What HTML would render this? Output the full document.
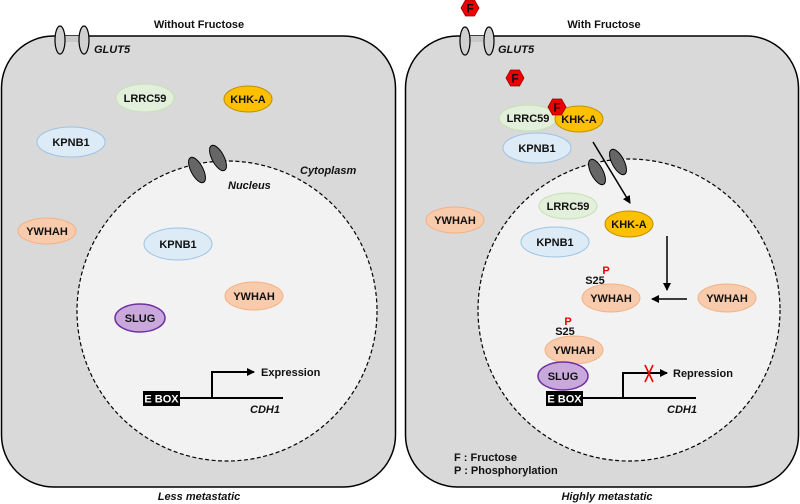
<!DOCTYPE html>
<html><head><meta charset="utf-8"><style>
html,body{margin:0;padding:0;background:#fff}
svg{display:block}
text{font-family:"Liberation Sans",Arial,sans-serif;font-weight:bold;fill:#111}
.it{font-style:italic}
</style></head><body>
<svg width="800" height="504" viewBox="0 0 800 504" xmlns="http://www.w3.org/2000/svg">
<defs>
<marker id="ah" markerWidth="8" markerHeight="8" refX="7" refY="4" orient="auto" markerUnits="userSpaceOnUse"><path d="M0,0 L8,4 L0,8 Z" fill="#000"/></marker>
<g id="hex"><polygon points="-9,0 -4.5,-8 4.5,-8 9,0 4.5,8 -4.5,8" fill="#e00" stroke="#900" stroke-width="0.8"/><text x="0" y="4.5" text-anchor="middle" font-size="12" style="fill:#111">F</text></g>
</defs>
<!-- titles -->
<text x="199" y="28" text-anchor="middle" font-size="11">Without Fructose</text>
<text x="604" y="28" text-anchor="middle" font-size="11">With Fructose</text>
<!-- cells -->
<rect x="1.5" y="36" width="394" height="451" rx="52" fill="#d9d9d9" stroke="#000" stroke-width="1.5"/>
<rect x="405.5" y="36" width="393" height="451" rx="52" fill="#d9d9d9" stroke="#000" stroke-width="1.5"/>
<!-- nuclei -->
<circle cx="227" cy="311" r="150" fill="#f2f2f2" stroke="#000" stroke-width="1.2" stroke-dasharray="4,2.5"/>
<circle cx="629" cy="310" r="151" fill="#f2f2f2" stroke="#000" stroke-width="1.2" stroke-dasharray="4,2.5"/>
<!-- GLUT5 -->
<rect x="60" y="36" width="24" height="6" fill="#c8c8c8"/>
<ellipse cx="60" cy="40" rx="5" ry="14" fill="#d0d0d0" stroke="#000" stroke-width="1.2"/>
<ellipse cx="84" cy="40" rx="5" ry="14" fill="#d0d0d0" stroke="#000" stroke-width="1.2"/>
<text x="94" y="53" font-size="11" class="it">GLUT5</text>
<rect x="465" y="36" width="24" height="6" fill="#c8c8c8"/>
<ellipse cx="465" cy="41" rx="5" ry="14" fill="#d0d0d0" stroke="#000" stroke-width="1.2"/>
<ellipse cx="489" cy="41" rx="5" ry="14" fill="#d0d0d0" stroke="#000" stroke-width="1.2"/>
<text x="498" y="53" font-size="11" class="it">GLUT5</text>
<!-- pores -->
<ellipse cx="197" cy="170" rx="6" ry="14" transform="rotate(-28 197 170)" fill="#666" stroke="#000"/>
<ellipse cx="218" cy="158" rx="6" ry="14" transform="rotate(-28 218 158)" fill="#666" stroke="#000"/>
<ellipse cx="597" cy="172" rx="6" ry="14" transform="rotate(-28 597 172)" fill="#666" stroke="#000"/>
<ellipse cx="618" cy="162" rx="6" ry="14" transform="rotate(-28 618 162)" fill="#666" stroke="#000"/>
<text x="300" y="174" font-size="11" class="it">Cytoplasm</text>
<text x="228" y="189" font-size="11" class="it">Nucleus</text>
<!-- left proteins -->
<g font-size="11" text-anchor="middle">
<ellipse cx="145" cy="98" rx="29" ry="14" fill="#e2efda" stroke="#c6e0b4"/><text x="145" y="102">LRRC59</text>
<ellipse cx="248" cy="99" rx="24" ry="13" fill="#ffc000" stroke="#bf9000"/><text x="248" y="103">KHK-A</text>
<ellipse cx="71" cy="142" rx="34" ry="15" fill="#ddebf7" stroke="#9dc3e6"/><text x="71" y="146">KPNB1</text>
<ellipse cx="47" cy="231" rx="29" ry="13" fill="#f8cbad" stroke="#f4b183"/><text x="47" y="235">YWHAH</text>
<ellipse cx="178" cy="244" rx="34" ry="16" fill="#ddebf7" stroke="#9dc3e6"/><text x="178" y="248">KPNB1</text>
<ellipse cx="254" cy="296" rx="29" ry="14" fill="#f8cbad" stroke="#f4b183"/><text x="254" y="300">YWHAH</text>
<ellipse cx="140" cy="318" rx="25" ry="14" fill="#c9a9dc" stroke="#7030a0" stroke-width="1.5"/><text x="140" y="322">SLUG</text>
</g>
<rect x="143" y="391" width="37" height="15" fill="#000"/>
<text x="161.5" y="402.5" font-size="11" text-anchor="middle" style="fill:#fff">E BOX</text>
<line x1="180" y1="398" x2="283" y2="398" stroke="#000" stroke-width="2"/>
<polyline points="212,398 212,372 254,372" fill="none" stroke="#000" stroke-width="2" marker-end="url(#ah)"/>
<text x="261" y="376" font-size="11">Expression</text>
<text x="250" y="413" font-size="11" class="it">CDH1</text>
<text x="199" y="500" text-anchor="middle" font-size="11" class="it">Less metastatic</text>
<!-- right proteins -->
<g font-size="11" text-anchor="middle">
<ellipse cx="528" cy="118" rx="29" ry="13" fill="#e2efda" stroke="#c6e0b4"/><text x="528" y="122">LRRC59</text>
<ellipse cx="579" cy="119" rx="24" ry="13" fill="#ffc000" stroke="#bf9000"/><text x="579" y="123">KHK-A</text>
<ellipse cx="537" cy="148" rx="34" ry="15" fill="#ddebf7" stroke="#9dc3e6"/><text x="537" y="152">KPNB1</text>
<ellipse cx="455" cy="220" rx="29" ry="13" fill="#f8cbad" stroke="#f4b183"/><text x="455" y="224">YWHAH</text>
<ellipse cx="568" cy="206" rx="29" ry="13" fill="#e2efda" stroke="#c6e0b4"/><text x="568" y="210">LRRC59</text>
<ellipse cx="555" cy="242" rx="34" ry="15" fill="#ddebf7" stroke="#9dc3e6"/><text x="555" y="246">KPNB1</text>
<ellipse cx="629" cy="224" rx="24" ry="13" fill="#ffc000" stroke="#bf9000"/><text x="629" y="228">KHK-A</text>
<ellipse cx="727" cy="298" rx="29" ry="14" fill="#f8cbad" stroke="#f4b183"/><text x="727" y="302">YWHAH</text>
<ellipse cx="611" cy="298" rx="29" ry="14" fill="#f8cbad" stroke="#f4b183"/><text x="611" y="302">YWHAH</text>
<ellipse cx="574" cy="350" rx="29" ry="14" fill="#f8cbad" stroke="#f4b183"/><text x="574" y="354">YWHAH</text>
<ellipse cx="563" cy="376" rx="25" ry="14" fill="#c9a9dc" stroke="#7030a0" stroke-width="1.5"/><text x="563" y="380">SLUG</text>
</g>
<text x="595" y="284" font-size="11" text-anchor="middle">S25</text>
<text x="606" y="274" font-size="11" text-anchor="middle" style="fill:#e00">P</text>
<text x="565" y="335" font-size="11" text-anchor="middle">S25</text>
<text x="568" y="325" font-size="11" text-anchor="middle" style="fill:#e00">P</text>
<use href="#hex" x="470" y="8"/>
<use href="#hex" x="515" y="78"/>
<use href="#hex" x="557" y="107"/>
<!-- arrows -->
<line x1="593" y1="142" x2="630" y2="203" stroke="#000" stroke-width="1.5" marker-end="url(#ah)"/>
<line x1="667" y1="236" x2="667" y2="290" stroke="#000" stroke-width="1.5" marker-end="url(#ah)"/>
<line x1="687" y1="299" x2="652" y2="299" stroke="#000" stroke-width="1.5" marker-end="url(#ah)"/>
<rect x="546" y="391" width="37" height="15" fill="#000"/>
<text x="564.5" y="402.5" font-size="11" text-anchor="middle" style="fill:#fff">E BOX</text>
<line x1="583" y1="398" x2="696" y2="398" stroke="#000" stroke-width="2"/>
<polyline points="623,398 623,373 667,373" fill="none" stroke="#000" stroke-width="2" marker-end="url(#ah)"/>
<line x1="645" y1="365" x2="653" y2="382" stroke="#e00" stroke-width="1.6"/>
<line x1="653" y1="365" x2="645" y2="382" stroke="#e00" stroke-width="1.6"/>
<text x="673" y="377" font-size="11">Repression</text>
<text x="667" y="413" font-size="11" class="it">CDH1</text>
<text x="454" y="461" font-size="11">F : Fructose</text>
<text x="454" y="474" font-size="11">P : Phosphorylation</text>
<text x="607" y="500" text-anchor="middle" font-size="11" class="it">Highly metastatic</text>
</svg>
</body></html>
